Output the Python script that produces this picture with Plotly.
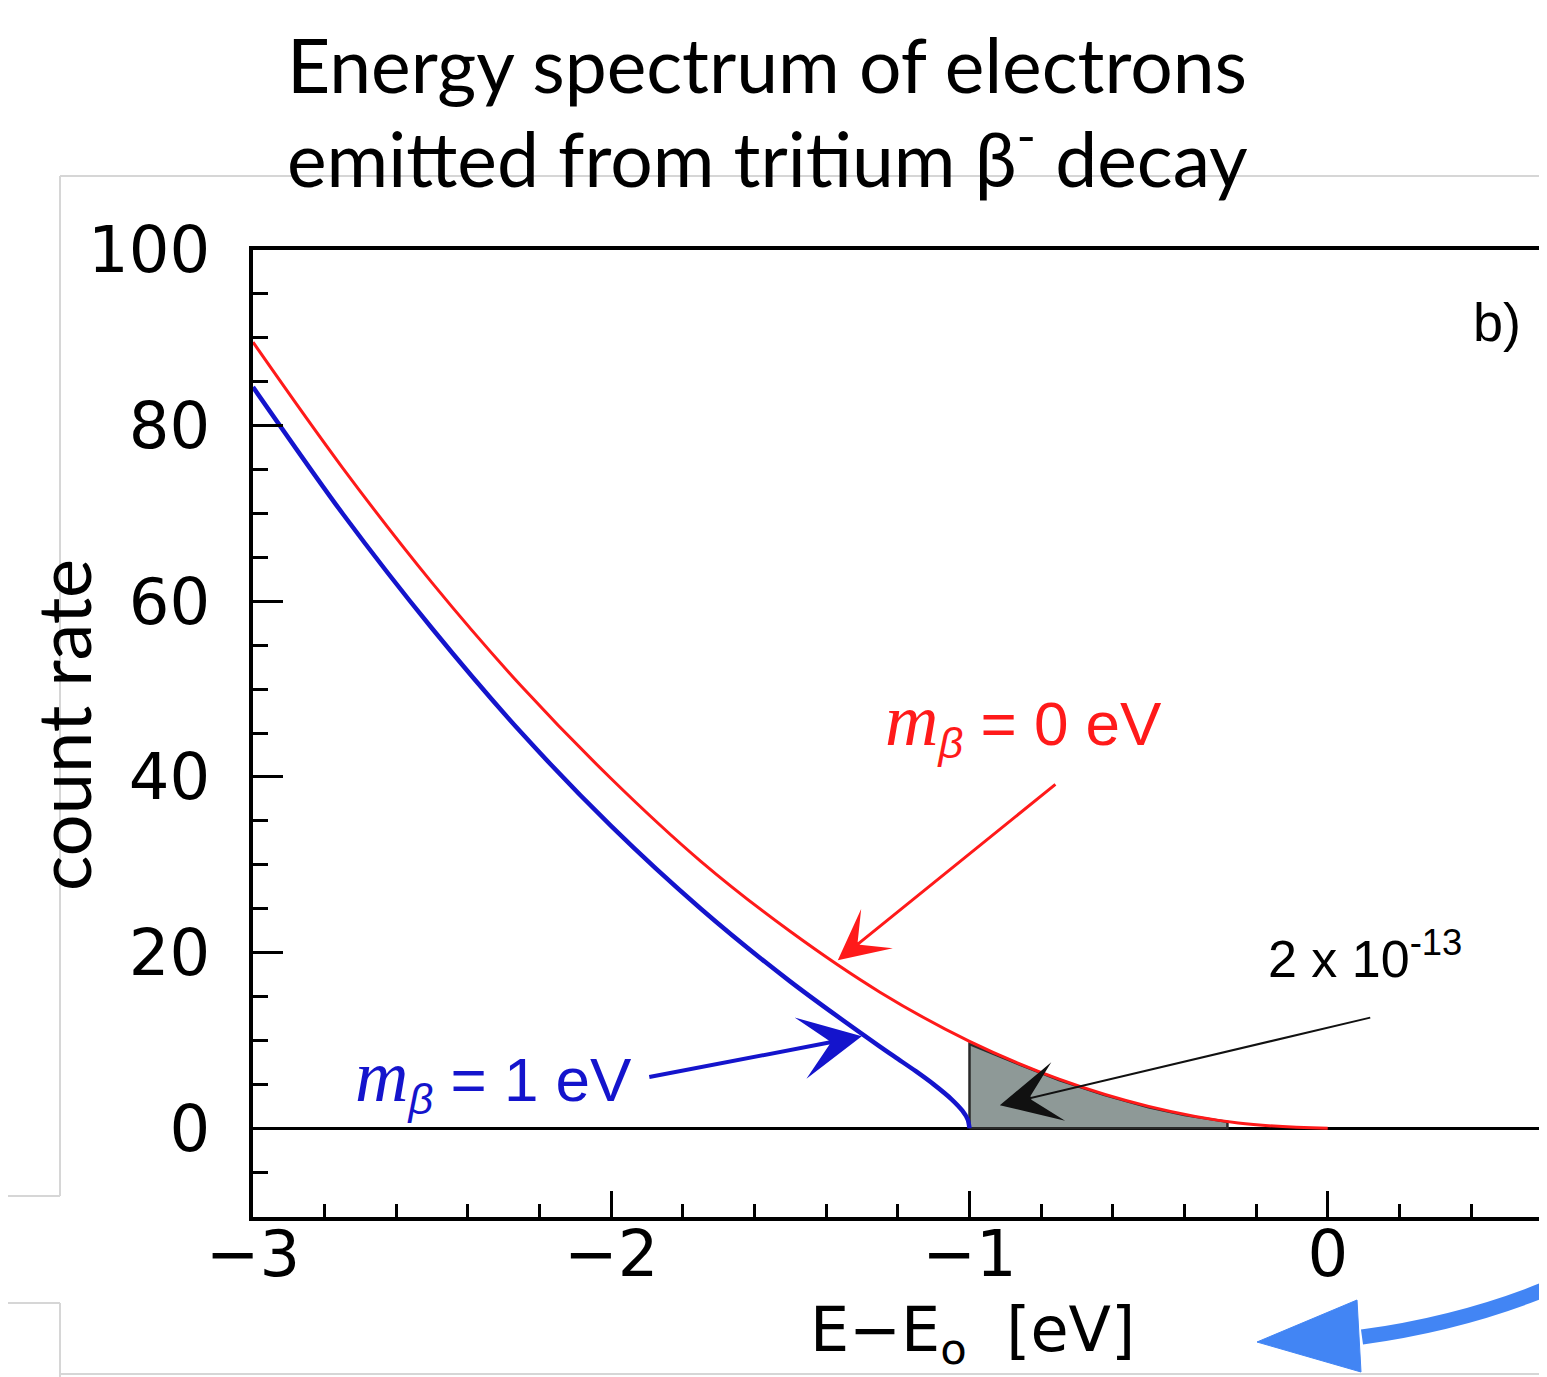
import plotly.graph_objects as go

# Spectrum near the endpoint
red_x = [-3.0, -2.75, -2.5, -2.25, -2.0, -1.75, -1.5, -1.25, -1.0, -0.75, -0.5, -0.25, 0.0]
red_y = [89.5, 75.2, 62.1, 50.3, 39.8, 30.4, 22.4, 15.5, 9.9, 5.6, 2.5, 0.6, 0.0]

blue_x = [-3.0, -2.75, -2.5, -2.25, -2.0, -1.75, -1.5, -1.25, -1.2, -1.15, -1.1, -1.05, -1.02, -1.005, -1.0]
blue_y = [84.4, 70.0, 56.9, 45.0, 34.4, 25.0, 16.7, 9.3, 7.9, 6.5, 5.0, 3.3, 2.0, 1.0, 0.0]

# grey area between x=-1 and the red curve
shade_x = [-1.0, -1.0, -0.875, -0.75, -0.625, -0.5, -0.4, -0.28, -0.28, -1.0]
shade_y = [0.0, 9.6, 7.5, 5.5, 3.8, 2.4, 1.5, 0.75, 0.0, 0.0]

x_ticks = [-3, -2, -1, 0]
y_ticks = [0, 20, 40, 60, 80, 100]

TICK_FONT = dict(family="DejaVu Sans", size=64, color="black")
TEXT_FONT = "Lato"
RED = "#ff1a1a"
BLUE = "#1414cc"

fig = go.Figure()

fig.add_trace(go.Scatter(
    x=shade_x, y=shade_y, mode="lines", fill="toself",
    fillcolor="#8e9997", line=dict(color="#2a2a2a", width=2.5),
    hoverinfo="skip", showlegend=False,
))
fig.add_trace(go.Scatter(
    x=red_x, y=red_y, mode="lines", line=dict(color=RED, width=3, shape="spline"),
    name="m=0", showlegend=False,
))
fig.add_trace(go.Scatter(
    x=blue_x, y=blue_y, mode="lines", line=dict(color=BLUE, width=4.5, shape="spline", smoothing=0.8),
    name="m=1", showlegend=False,
))

fig.update_xaxes(
    range=[-3, 0.612], tickvals=x_ticks, ticks="inside", ticklen=26, tickwidth=3,
    tickcolor="black", showline=True, linecolor="black", linewidth=4, mirror=True,
    showgrid=False, zeroline=False, tickfont=TICK_FONT, ticklabelstandoff=-22,
    minor=dict(dtick=0.2, ticks="inside", ticklen=13, tickwidth=3, tickcolor="black", showgrid=False),
)
fig.update_yaxes(
    range=[-10.1, 100], tickvals=y_ticks, ticks="inside", ticklen=30, tickwidth=3,
    tickcolor="black", showline=True, linecolor="black", linewidth=4, mirror=False,
    showgrid=False, zeroline=True, zerolinecolor="black", zerolinewidth=3,
    tickfont=TICK_FONT, ticklabelstandoff=26,
    minor=dict(dtick=5, ticks="inside", ticklen=15, tickwidth=3, tickcolor="black", showgrid=False),
)

M_RED = "<span style='font-family:Liberation Serif;font-size:74px'><i>m</i></span><sub><i>β</i></sub>"

annotations = [
    # slide title, one annotation per line
    dict(text="Energy spectrum of electrons",
         xref="paper", yref="paper", x=0.0247, y=(1217 - 64) / 967, xanchor="left", yanchor="middle",
         showarrow=False, font=dict(family=TEXT_FONT, size=75, color="black")),
    dict(text="emitted from tritium β<sup>-</sup> decay",
         xref="paper", yref="paper", x=0.0247, y=(1217 - 153) / 967, xanchor="left", yanchor="middle",
         showarrow=False, font=dict(family=TEXT_FONT, size=75, color="black")),
    dict(text="count rate", xref="paper", yref="paper", x=(62 - 253) / 1294, y=(1217 - 725) / 967,
         xanchor="center", yanchor="middle",
         textangle=-90, showarrow=False, font=dict(family=TEXT_FONT, size=74, color="black")),
    dict(text="E−E<sub>o</sub>  [eV]", xref="paper", yref="paper", x=(972 - 253) / 1294,
         y=(1217 - 1333) / 967, xanchor="center", yanchor="middle",
         showarrow=False, font=dict(family="DejaVu Sans", size=62, color="black")),
    dict(text="b)", x=0.472, y=91.8, showarrow=False,
         font=dict(family="Liberation Sans", size=54, color="black")),
    dict(text=M_RED + " = 0 eV", x=-0.85, y=46.2, showarrow=False,
         font=dict(family="Liberation Sans", size=62, color=RED)),
    dict(text=M_RED + " = 1 eV", x=-2.33, y=5.6, showarrow=False,
         font=dict(family="Liberation Sans", size=62, color=BLUE)),
    dict(text="2 x 10<sup>-13</sup>", x=0.103, y=19.7, showarrow=False,
         font=dict(family="Liberation Sans", size=52, color="black")),
    # arrows
    dict(text="", x=-1.3676, y=19.13, ax=-0.756, ay=39.3, axref="x", ayref="y",
         showarrow=True, arrowhead=3, arrowsize=2.8, arrowwidth=3, arrowcolor=RED, standoff=0),
    dict(text="", x=-1.3006, y=10.48, ax=-1.898, ay=5.8, axref="x", ayref="y",
         showarrow=True, arrowhead=3, arrowsize=2.6, arrowwidth=4, arrowcolor=BLUE, standoff=0),
    dict(text="", x=-0.9154, y=2.62, ax=0.1228, ay=12.64, axref="x", ayref="y",
         showarrow=True, arrowhead=3, arrowsize=5, arrowwidth=2, arrowcolor="#111111", standoff=0),
]


def px_x(p):
    return (p - 253) / 1294


def px_y(p):
    return (1217 - p) / 967


GREY = "#d6d6d6"
shapes = []
# slide frame lines
for (x0, y0, x1, y1) in [(60, 176, 1547, 176), (60, 176, 60, 1196), (0, 1196, 60, 1196),
                         (0, 1303, 60, 1303), (60, 1303, 60, 1377), (60, 1374, 1547, 1374)]:
    shapes.append(dict(type="line", xref="paper", yref="paper", x0=px_x(x0), y0=px_y(y0),
                       x1=px_x(x1), y1=px_y(y1), line=dict(color=GREY, width=2), layer="below"))

# curved blue pointer at the bottom right
shapes.append(dict(
    type="path", xref="paper", yref="paper",
    path=f"M {px_x(1560)},{px_y(1283)} Q {px_x(1470)},{px_y(1322)} {px_x(1362)},{px_y(1337)}",
    line=dict(color="#4285f4", width=15),
))
shapes.append(dict(
    type="path", xref="paper", yref="paper",
    path=f"M {px_x(1257)},{px_y(1342)} L {px_x(1357)},{px_y(1300)} L {px_x(1361)},{px_y(1372)} Z",
    fillcolor="#4285f4", line=dict(color="#4285f4", width=1),
))

# page body adds an 8px margin round the figure
fig.update_layout(
    width=1539, height=1369,
    margin=dict(l=245, r=0, t=242, b=160),
    paper_bgcolor="white", plot_bgcolor="white",
    annotations=annotations, shapes=shapes,
    showlegend=False,
)

fig.write_html("out.html")
